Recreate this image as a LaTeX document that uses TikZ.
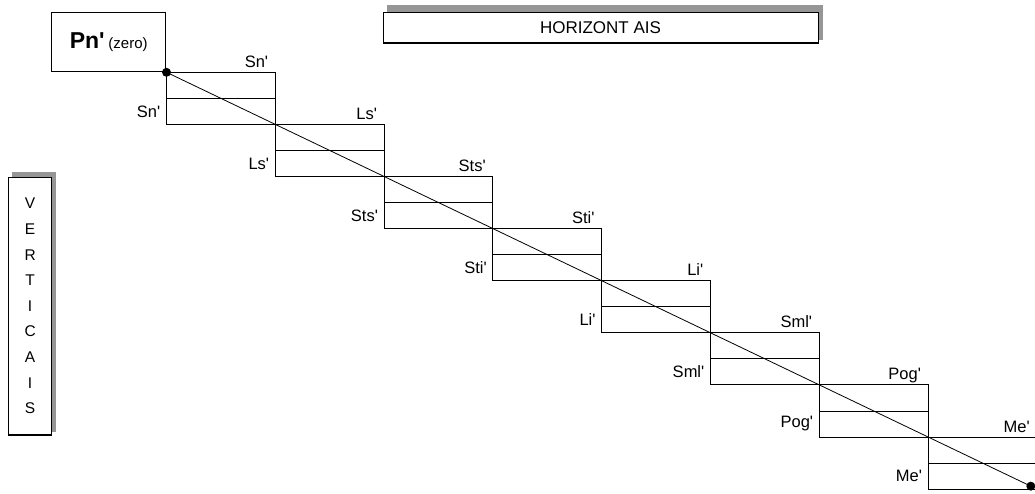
\documentclass[tikz,border=0pt]{standalone}
\usepackage{fontspec}
\setmainfont{Liberation Sans}[Ligatures=TeXOff]
\usetikzlibrary{calc}
\definecolor{shadowgray}{RGB}{150,150,150}
\begin{document}
\begin{tikzpicture}[x=1pt,y=-1pt,
  stepbox/.style={draw, line width=0.9pt, minimum width=108.8pt, minimum height=52.1pt, anchor=north west, inner sep=0pt, outer sep=0pt},
  lab/.style={font=\fontsize{16.5}{16.5}\selectfont, inner sep=0pt},
  frame/.style={draw, line width=0.9pt, fill=white, inner sep=0pt, outer sep=0pt, anchor=north west},
  dot/.style={circle, fill=black, minimum size=9pt, inner sep=0pt}
]
\useasboundingbox (0,0) rectangle (1035,494);

% shadows
\fill[shadowgray] (387,5) rectangle (823,40);
\fill[shadowgray] (12,172) rectangle (56,432);

% title boxes
\node[frame, minimum width=435pt, minimum height=31pt, font=\fontsize{17}{17}\selectfont] (hz) at (383,12) {HORIZONT AIS};
\draw[line width=2.5pt] (hz.south west) -- (hz.south east);

\node[frame, minimum width=43.2pt, minimum height=258pt, align=center, font=\fontsize{15.5}{25.6}\selectfont] (vt) at (8.5,177) {V\\E\\R\\T\\I\\C\\A\\I\\S};
\draw[line width=2.5pt] (vt.south west) -- (vt.south east);

\node[frame, minimum width=114pt, minimum height=59.4pt] (pn) at (51.7,12.3)
  {\fontsize{23}{23}\selectfont\bfseries Pn'\,\fontsize{15}{15}\selectfont\mdseries(zero)};

% steps
\foreach \n [count=\i from 0] in {Sn,Ls,Sts,Sti,Li,Sml,Pog,Me} {
  \node[stepbox] (b\i) at (166.5+\i*108.8, 72.3+\i*52.1) {};
  \draw[line width=0.9pt] (b\i.west) -- (b\i.east);
  \node[lab, anchor=base east] (t\i) at ([xshift=-7pt,yshift=5pt]b\i.north east) {\n'};
  \node[lab, anchor=east] (l\i) at ([xshift=-6pt]$(b\i.west)!0.5!(b\i.south west)$) {\n'};
}

% diagonal
\coordinate (s) at (b0.north west);
\coordinate (e) at ($(b0.north west)!0.993!(b7.south east)$);
\draw[line width=0.8pt] (s) -- (e);
\node[dot] (ds) at (s) {};
\node[dot] (de) at (e) {};
\end{tikzpicture}
\end{document}
